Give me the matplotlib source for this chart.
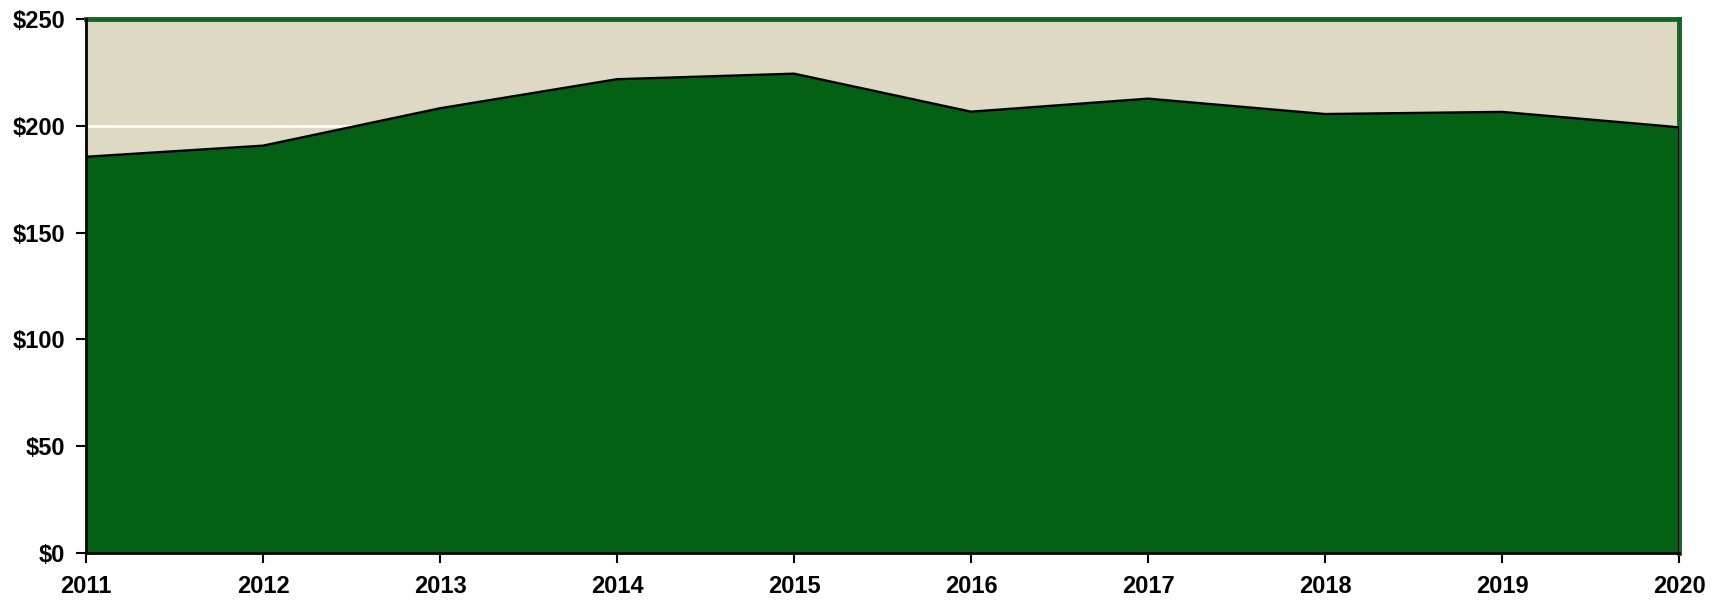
import numpy as np
import matplotlib.pyplot as plt
from matplotlib.ticker import FuncFormatter

years = [2011, 2012, 2013, 2014, 2015, 2016, 2017, 2018, 2019, 2020]
values = [185.5, 190.7, 208.2, 221.8, 224.4, 206.6, 212.7, 205.5, 206.5, 199.3]
y_ticks = [0, 50, 100, 150, 200, 250]

plt.rcParams['font.family'] = ['Liberation Sans Narrow', 'Liberation Sans', 'DejaVu Sans']

fig = plt.figure(figsize=(17.2, 6.01), dpi=100)
ax = fig.add_axes([0.05, 0.0799, 0.9262, 0.8885])

ax.set_facecolor('#DDD9C3')
ax.set_axisbelow(True)
ax.grid(True, axis='y', color='white', lw=2)

ax.fill_between(years, values, 0, facecolor='#036114', edgecolor='none', zorder=2)
# black outline of the area
xs = [years[0]] + years + [years[-1]]
ys = [0] + values + [0]
ax.plot(xs, ys, color='black', lw=1.7, zorder=3, solid_joinstyle='miter')

ax.set_xlim(years[0], years[-1])
ax.set_ylim(0, 250)
ax.set_xticks(years)
ax.set_yticks(y_ticks)
ax.yaxis.set_major_formatter(FuncFormatter(lambda v, p: '$%d' % v))

for s in ['top', 'right']:
    ax.spines[s].set_color('#0B6B1F')
    ax.spines[s].set_linewidth(3.5)
for s in ['left', 'bottom']:
    ax.spines[s].set_color('black')
    ax.spines[s].set_linewidth(2)
    ax.spines[s].set_zorder(4)

ax.tick_params(axis='both', direction='out', length=7, width=1.5, color='black',
               labelsize=17)
ax.tick_params(axis='x', pad=9)
ax.tick_params(axis='y', pad=8)
for lab in ax.get_xticklabels() + ax.get_yticklabels():
    lab.set_fontweight('bold')

fig.savefig('out.png', dpi=100)
